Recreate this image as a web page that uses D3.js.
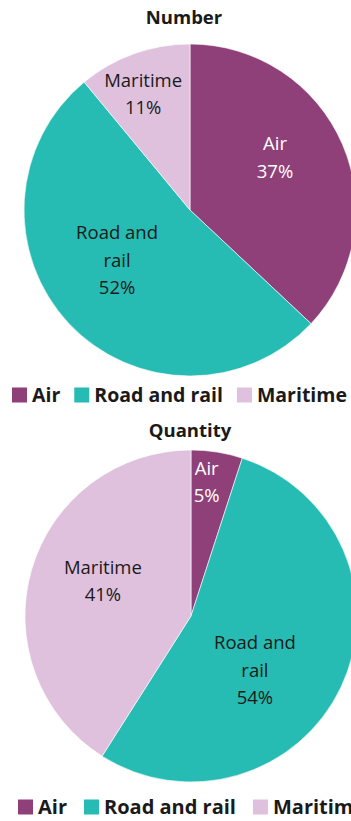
<!DOCTYPE html>
<html>
<head>
<meta charset="utf-8">
<script src="https://cdn.jsdelivr.net/npm/d3@7"></script>
<style>
  html, body { margin: 0; padding: 0; background: #fff; }
  svg { display: block; }
  text { font-family: "Open Sans", "Noto Sans", sans-serif; }
</style>
</head>
<body>
<svg id="chart" width="351" height="821"></svg>
<script>
// Transport modes, in the order they appear clockwise from 12 o'clock
const modes = ["Air", "Road and rail", "Maritime"];
const modeColors = ["#8f4079", "#27bcb3", "#dfc1de"];

// Shares (%) by number of shipments and by quantity
const numberShares = [37, 52, 11];
const quantityShares = [5, 54, 41];

const panelTitles = ["Number", "Quantity"];

const svg = d3.select("#chart");
const R = 166;

const color = d3.scaleOrdinal().domain(modes).range(modeColors);

// label distance from centre (fraction of radius) and angular nudge in degrees, per slice
const labelPlacement = [
  [{ r: 0.60, da: -8 }, { r: 0.536, da: 8.3 }, { r: 0.75, da: -2.3 }],
  [{ r: 0.81, da: -2.3 }, { r: 0.508, da: 15.5 }, { r: 0.57, da: 5.2 }]
];

const panels = [
  { title: panelTitles[0], values: numberShares, cx: 190, cy: 210, titleX: 184, titleY: 24,
    legendX: 12, legendY: 395, legendFont: 19.5, legendGap: 14 },
  { title: panelTitles[1], values: quantityShares, cx: 191, cy: 616, titleX: 190, titleY: 437,
    legendX: 18, legendY: 807, legendFont: 20, legendGap: 17 }
];

const pie = d3.pie().sort(null).value(d => d.value);
const arc = d3.arc().innerRadius(0).outerRadius(R);

panels.forEach((p, pi) => {
  const data = modes.map((m, i) => ({ mode: m, value: p.values[i] }));

  svg.append("text")
    .attr("x", p.titleX)
    .attr("y", p.titleY)
    .attr("text-anchor", "middle")
    .attr("font-size", 18.5)
    .attr("font-weight", 700)
    .attr("fill", "#1a1a1a")
    .text(p.title);

  const g = svg.append("g").attr("transform", `translate(${p.cx},${p.cy})`);
  const arcs = pie(data);

  g.selectAll("path")
    .data(arcs)
    .join("path")
    .attr("d", arc)
    .attr("fill", d => color(d.data.mode))
    .attr("stroke", "#fff")
    .attr("stroke-width", 0.6);

  arcs.forEach((d, i) => {
    const lp = labelPlacement[pi][i];
    const a = (d.startAngle + d.endAngle) / 2 + lp.da * Math.PI / 180;
    const rr = R * lp.r;
    const x = Math.sin(a) * rr;
    const y = -Math.cos(a) * rr;
    const words = d.data.mode === "Road and rail" ? ["Road and", "rail"] : [d.data.mode];
    const lines = words.concat([d.data.value + "%"]);
    const lh = 27.5;
    const t = g.append("text")
      .attr("text-anchor", "middle")
      .attr("font-size", 18.5)
      .attr("fill", d.data.mode === "Air" ? "#ffffff" : "#1a1a1a");
    lines.forEach((ln, k) => {
      t.append("tspan")
        .attr("x", x)
        .attr("y", y + (k - (lines.length - 1) / 2) * lh + 6)
        .text(ln);
    });
  });

  // legend
  const lg = svg.append("g").attr("transform", `translate(${p.legendX},${p.legendY})`);
  let xpos = 0;
  modes.forEach(m => {
    lg.append("rect")
      .attr("x", xpos)
      .attr("y", -7.5)
      .attr("width", 15)
      .attr("height", 15)
      .attr("fill", color(m));
    const tx = lg.append("text")
      .attr("x", xpos + 20)
      .attr("y", 6.5)
      .attr("font-size", p.legendFont)
      .attr("font-weight", 700)
      .attr("fill", "#1a1a1a")
      .text(m);
    xpos += 20 + tx.node().getComputedTextLength() + p.legendGap;
  });
});
</script>
</body>
</html>
